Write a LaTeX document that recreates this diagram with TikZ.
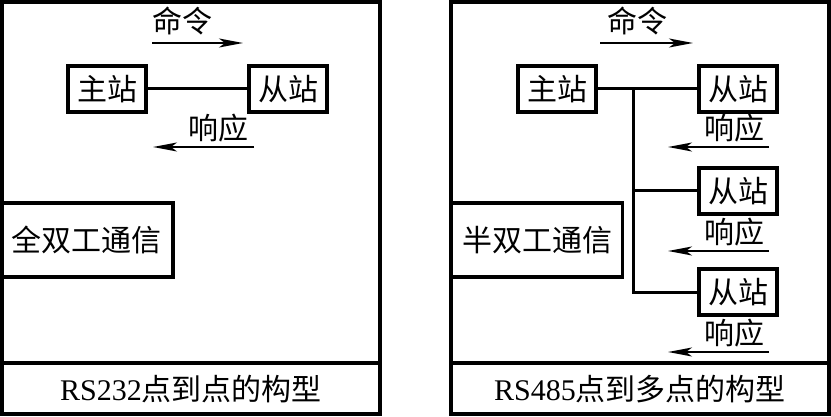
\documentclass[tikz,border=0pt]{standalone}
\usepackage{fontspec}
\setmainfont{Liberation Serif}
\newfontfamily\cjk{Noto Sans CJK SC}
\usetikzlibrary{arrows.meta,positioning}

\begin{document}
\begin{tikzpicture}[x=1pt,y=-1pt,font=\cjk\fontsize{30}{32}\selectfont,>={Stealth[length=24pt,width=9pt,inset=6pt]},
 station/.style={draw,line width=3.8pt,minimum width=78pt,minimum height=46pt,inner sep=0pt},
 mode/.style={draw,line width=3.8pt,minimum height=74pt,inner sep=0pt},
 frame/.style={line width=3.6pt},
 bus/.style={line width=3pt},
 sig/.style={->,line width=2pt}]
 \useasboundingbox (0,0) rectangle (831,417);
 % RS232 panel
 \draw[frame] (2,2) rectangle (380,414) (2,363) -- (380,363);
 \node[station] (m1) at (107,89) {主站};
 \node[station] (s1) at (288,89) {从站};
 \draw[bus] (m1) -- (s1);
 \node (cmd1) at (182,21) {命令};
 \draw[sig] (152,43) -- (243,43);
 \node (rsp1) at (218,128) {响应};
 \draw[sig] (254,147) -- (153,147);
 \node[mode,minimum width=172pt] (full) at (87,240) {全双工通信};
 \node (cap1) at (191,389) {{\rmfamily RS232}点到点的构型};
 % RS485 panel
 \draw[frame] (451,2) rectangle (829,414) (451,363) -- (829,363);
 \node[station] (m2) at (557,89) {主站};
 \node[station] (s2a) at (738,89) {从站};
 \node[station] (s2b) at (738,191) {从站};
 \node[station] (s2c) at (738,292) {从站};
 \coordinate (tap) at (633,89);
 \draw[bus] (m2) -- (s2a);
 \draw[bus] (tap) |- (s2c.west);
 \draw[bus] (tap|-s2b.west) -- (s2b.west);
 \node (cmd2) at (637,21) {命令};
 \draw[sig] (600,43) -- (693,43);
 \foreach \y/\n in {128/a,232/b,333/c}{
  \node (rsp2\n) at (734,\y) {响应};
  \draw[sig] (769,\y+19) -- (668,\y+19);
 }
 \node[mode,minimum width=171pt] (half) at (537,240) {半双工通信};
 \node (cap2) at (640,389) {{\rmfamily RS485}点到多点的构型};
\end{tikzpicture}
\end{document}
